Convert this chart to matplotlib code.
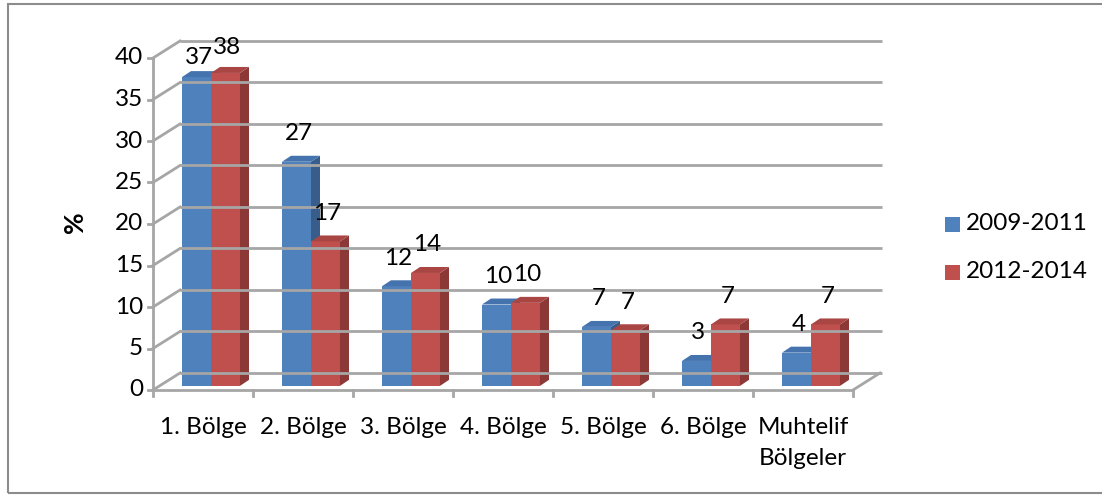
import matplotlib
matplotlib.use("Agg")
import matplotlib.pyplot as plt
from matplotlib.patches import Rectangle, Polygon

plt.rcParams['font.family'] = ['Lato', 'DejaVu Sans']

categories = ["1. Bölge", "2. Bölge", "3. Bölge", "4. Bölge", "5. Bölge", "6. Bölge", "Muhtelif\nBölgeler"]
series_names = ["2009-2011", "2012-2014"]
vals_0911 = [37.2, 27.0, 12.0, 9.8, 7.1, 3.0, 4.0]
vals_1214 = [37.7, 17.4, 13.6, 10.0, 6.7, 7.4, 7.4]
yticks = [0, 5, 10, 15, 20, 25, 30, 35, 40]

front_cols = ["#4F81BD", "#C0504D"]
side_cols = ["#385D8A", "#8C3836"]
top_cols = ["#4573AE", "#A94643"]
grid_col = "#A6A6A6"
fs = 17.5

W, H = 1102, 495
fig = plt.figure(figsize=(W / 100, H / 100), dpi=100)
# axes placed so 1 category = 100 px, 40 units = 332 px
ax = fig.add_axes([153 / W, (H - 390) / H, 700 / W, 332 / H])
ax.set_xlim(0, 7)
ax.set_ylim(0, 40)
ax.axis("off")

n = len(categories)
wx, wy = 0.27, 2.05      # wall depth
bdx, bdy = 0.09, 0.72    # bar depth
base = 0.5
lw = 2.0

# back wall gridlines and side-wall diagonals
for t in yticks:
    ax.plot([wx, n + wx + 0.02], [t + wy, t + wy], color=grid_col, lw=lw, clip_on=False, solid_capstyle="butt")
    ax.plot([0, wx], [t, t + wy], color=grid_col, lw=lw, clip_on=False)
    ax.plot([-0.05, 0], [t, t], color=grid_col, lw=lw, clip_on=False)
    ax.text(-0.1, t, str(t), ha="right", va="center", fontsize=fs)
# floor
ax.plot([0, n], [0, 0], color=grid_col, lw=lw, clip_on=False)
ax.plot([n, n + wx], [0, wy], color=grid_col, lw=lw, clip_on=False)
ax.plot([0, 0], [0, 40], color=grid_col, lw=lw, clip_on=False)
for i in range(n + 1):
    ax.plot([i, i], [0, -0.7], color=grid_col, lw=lw, clip_on=False)

bw = 0.29
for i in range(n):
    for s, vals in enumerate([vals_0911, vals_1214]):
        v = vals[i]
        x0 = i + bw + s * bw
        top = base + v
        ax.add_patch(Rectangle((x0, base), bw, v, facecolor=front_cols[s], edgecolor="none", clip_on=False))
        ax.add_patch(Polygon([(x0 + bw, base), (x0 + bw + bdx, base + bdy), (x0 + bw + bdx, top + bdy), (x0 + bw, top)],
                             closed=True, facecolor=side_cols[s], edgecolor="none", clip_on=False))
        ax.add_patch(Polygon([(x0, top), (x0 + bdx, top + bdy), (x0 + bw + bdx, top + bdy), (x0 + bw, top)],
                             closed=True, facecolor=top_cols[s], edgecolor="none", clip_on=False))
        ly = min(top + 3.4, 40.1 + 1.2 * s)
        ax.text(x0 + bw / 2 + 0.02, ly, str(int(round(v))), ha="center", va="center", fontsize=fs)
    ax.text(i + 0.5, -3.3, categories[i], ha="center", va="top", fontsize=fs, linespacing=1.55)

ax.text(-0.78, 20.2, "%", rotation=90, ha="center", va="center", fontsize=fs + 1.5, fontweight="bold")

# legend
for s, name in enumerate(series_names):
    yc = 224 + s * 48
    fig.add_artist(Rectangle((945 / W, (H - yc - 7.5) / H), 15 / W, 15 / H, facecolor=front_cols[s],
                             edgecolor="none", transform=fig.transFigure))
    fig.text(966 / W, (H - yc) / H, name, ha="left", va="center", fontsize=fs)

# outer border
fig.add_artist(Rectangle((8 / W, (H - 493) / H), 1.2, 489 / H, facecolor="none", edgecolor="#8C8C8C",
                         lw=1.5, transform=fig.transFigure))

fig.savefig("out.png", dpi=100)
